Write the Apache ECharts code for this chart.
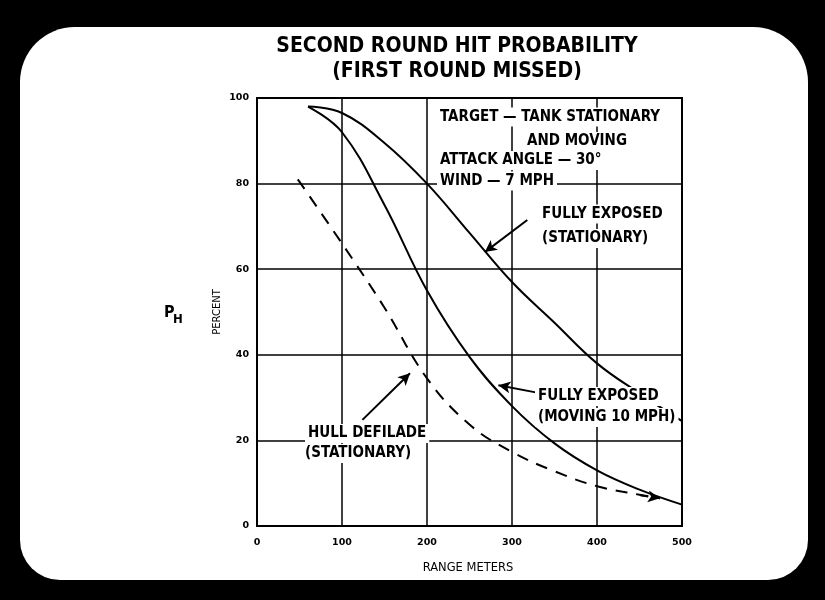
<!DOCTYPE html>
<html>
<head>
<meta charset="utf-8">
<script src="https://cdn.jsdelivr.net/npm/echarts@6/dist/echarts.min.js"></script>
<style>
  html, body { margin: 0; padding: 0; background: #000; }
  #card { position: absolute; left: 20px; top: 27px; width: 788px; height: 553px;
          background: #fff; border-radius: 55px 55px 40px 40px; }
  #main { position: absolute; left: 0; top: 0; width: 825px; height: 600px; }
</style>
</head>
<body>
<div id="card"></div>
<div id="main"></div>
<script>
// 坐标轴刻度
var xTicks = [0, 100, 200, 300, 400, 500];
var yTicks = [0, 20, 40, 60, 80, 100];

// 完全暴露 (静止)
var rangeStat = [60, 100, 150, 200, 250, 300, 350, 400, 450, 500];
var hitStat   = [98, 96.5, 89.5, 80, 68.5, 57, 47.5, 38, 31, 24.5];

// 完全暴露 (10 MPH 移动)
var rangeMove = [60, 100, 150, 200, 250, 300, 350, 400, 450, 500];
var hitMove   = [98, 92, 75, 55, 39.5, 28, 19.3, 13, 8.5, 5];

// 车体掩蔽 (静止) 虚线
var rangeHull = [48, 100, 150, 200, 250, 300, 350, 400, 450, 474];
var hitHull   = [81, 66, 51, 34.5, 23.7, 17.3, 12.8, 9.3, 7.3, 6.5];

// 指示箭头 [起点, 终点] (数据坐标)
var arrowStat = [[318, 71.5], [268, 64]];
var arrowMove = [[331, 31.1], [284, 32.9]];
var arrowHull = [[124, 24.8], [180, 35.7]];
var arrowTail = [[451, 7.2], [474, 6.5]];

var narrow = '"Liberation Sans Narrow", "DejaVu Sans Condensed", "Liberation Sans", sans-serif';
var plain = '"DejaVu Sans", sans-serif';

var pairs = function (xs, ys) {
    var out = [];
    for (var i = 0; i < xs.length; i++) out.push([xs[i], ys[i]]);
    return out;
};

var arrowItem = function (a, dashed) {
    return [{ coord: a[0] }, { coord: a[1], lineStyle: { type: dashed ? 'dashed' : 'solid' } }];
};

// 注释文字, 白底遮住网格线
var note = function (text, x, y) {
    return {
        type: 'text', x: x - 3, y: y, z: 100,
        style: {
            text: text, fill: '#000', font: 'bold 15px ' + narrow,
            textVerticalAlign: 'middle', backgroundColor: '#fff', padding: [2, 3]
        }
    };
};

var myChart = echarts.init(document.getElementById('main'), null, { renderer: 'canvas' });

var option = {
    animation: false,
    backgroundColor: 'transparent',
    grid: {
        left: 257, top: 98, width: 425, height: 428,
        show: true, borderColor: '#000', borderWidth: 2, backgroundColor: 'transparent'
    },
    xAxis: {
        type: 'value', min: xTicks[0], max: xTicks[xTicks.length - 1], interval: 100,
        axisLine: { show: true, lineStyle: { color: '#000', width: 2 } },
        axisTick: { show: false },
        splitLine: { show: true, lineStyle: { color: '#000', width: 1.5 } },
        axisLabel: { color: '#000', fontSize: 9.5, fontWeight: 'bold', fontFamily: plain, margin: 12 }
    },
    yAxis: {
        type: 'value', min: yTicks[0], max: yTicks[yTicks.length - 1], interval: 20,
        axisLine: { show: true, lineStyle: { color: '#000', width: 2 } },
        axisTick: { show: false },
        splitLine: { show: true, lineStyle: { color: '#000', width: 1.5 } },
        axisLabel: { color: '#000', fontSize: 9.5, fontWeight: 'bold', fontFamily: plain, margin: 8 }
    },
    series: [
        {
            name: 'FULLY EXPOSED (STATIONARY)', type: 'line', data: pairs(rangeStat, hitStat),
            smooth: 0.4, symbol: 'none', z: 5,
            lineStyle: { color: '#000', width: 2 }
        },
        {
            name: 'FULLY EXPOSED (MOVING 10 MPH)', type: 'line', data: pairs(rangeMove, hitMove),
            smooth: 0.4, symbol: 'none', z: 5,
            lineStyle: { color: '#000', width: 2 }
        },
        {
            name: 'HULL DEFILADE (STATIONARY)', type: 'line', data: pairs(rangeHull, hitHull),
            smooth: 0.4, symbol: 'none', z: 5,
            lineStyle: { color: '#000', width: 2, type: [12, 9] }
        },
        {
            name: 'arrows', type: 'line', data: [], z: 6,
            markLine: {
                silent: true, symbol: ['none', 'arrow'], symbolSize: [9, 12],
                label: { show: false },
                lineStyle: { color: '#000', width: 2, type: 'solid' },
                data: [
                    arrowItem(arrowStat), arrowItem(arrowMove),
                    arrowItem(arrowHull), arrowItem(arrowTail, true)
                ]
            }
        }
    ],
    graphic: [
        {
            type: 'text', x: 457, y: 47, z: 100,
            style: { text: 'SECOND ROUND HIT PROBABILITY', fill: '#000', font: 'bold 21px ' + narrow,
                     textAlign: 'center', textVerticalAlign: 'middle' }
        },
        {
            type: 'text', x: 457, y: 72, z: 100,
            style: { text: '(FIRST ROUND MISSED)', fill: '#000', font: 'bold 21px ' + narrow,
                     textAlign: 'center', textVerticalAlign: 'middle' }
        },
        {
            type: 'text', x: 164, y: 313, z: 100,
            style: { text: 'P', fill: '#000', font: 'bold 16px ' + narrow, textVerticalAlign: 'middle' }
        },
        {
            type: 'text', x: 173, y: 320, z: 100,
            style: { text: 'H', fill: '#000', font: 'bold 13px ' + narrow, textVerticalAlign: 'middle' }
        },
        {
            type: 'text', x: 217, y: 312, z: 100, rotation: Math.PI / 2,
            style: { text: 'PERCENT', fill: '#000', font: '10px ' + plain,
                     textAlign: 'center', textVerticalAlign: 'middle' }
        },
        {
            type: 'text', x: 468, y: 568, z: 100,
            style: { text: 'RANGE METERS', fill: '#000', font: '11.5px ' + plain,
                     textAlign: 'center', textVerticalAlign: 'middle' }
        },
        note('TARGET \u2014 TANK STATIONARY', 440, 117),
        note('AND MOVING', 527, 141.5),
        note('ATTACK ANGLE \u2014 30\u00b0', 440, 160.5),
        note('WIND \u2014 7 MPH', 440, 181),
        note('FULLY EXPOSED', 542, 214),
        note('(STATIONARY)', 542, 238.5),
        note('FULLY EXPOSED', 538, 396.5),
        note('(MOVING 10 MPH)', 538, 417.5),
        note('HULL DEFILADE', 308, 433.5),
        note('(STATIONARY)', 305, 453.5)
    ]
};

myChart.setOption(option);
</script>
</body>
</html>
